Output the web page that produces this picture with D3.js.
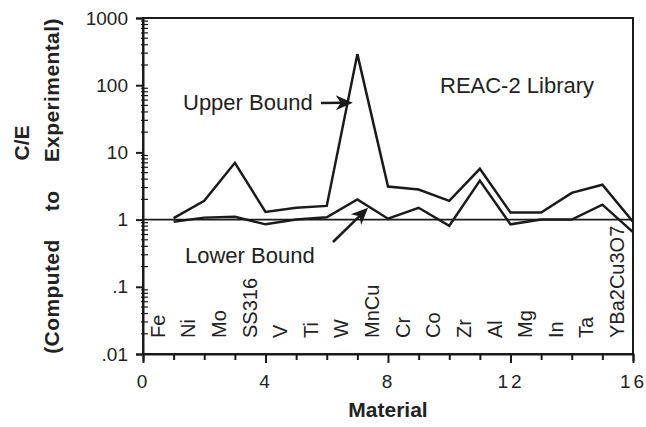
<!DOCTYPE html>
<html>
<head>
<meta charset="utf-8">
<script src="https://cdn.jsdelivr.net/npm/d3@7"></script>
<style>
  html, body { margin: 0; padding: 0; background: #fff; }
  svg { display: block; }
  text { font-family: "Liberation Sans", Arial, sans-serif; fill: #222; }
</style>
</head>
<body>
<svg id="chart" width="646" height="427"></svg>
<script>
// ---- data ----
const materials = ["Fe","Ni","Mo","SS316","V","Ti","W","MnCu","Cr","Co","Zr","Al","Mg","In","Ta","YBa2Cu3O7"];
const materialIndex = [1,2,3,4,5,6,7,8,9,10,11,12,13,14,15,16];
const upperBound = [1.05, 1.9, 7.0, 1.3, 1.5, 1.6, 290, 3.1, 2.8, 1.9, 5.7, 1.27, 1.27, 2.5, 3.3, 0.93];
const lowerBound = [0.93, 1.07, 1.1, 0.85, 1.0, 1.08, 2.0, 1.03, 1.5, 0.81, 3.8, 0.85, 1.0, 1.0, 1.67, 0.65];
const yTickValues = [1000, 100, 10, 1, 0.1, 0.01];
const yTickLabels = ["1000", "100", "10", "1", ".1", ".01"];
const xTickValues = [0,1,2,3,4,5,6,7,8,9,10,11,12,13,14,15,16];
const xTickLabels = ["0","4","8","12","16"];

// ---- layout ----
const svg = d3.select("#chart");
const L = 143, R = 633, T = 18, B = 354;
const x = d3.scaleLinear().domain([0, 16]).range([L, R]);
const y = d3.scaleLog().domain([0.01, 1000]).range([B, T]);
const ink = "#1a1a1a";
const FONT = "'Liberation Sans', Arial, sans-serif";

// frame
svg.append("rect").attr("x", L).attr("y", T).attr("width", R - L).attr("height", B - T)
  .attr("fill", "none").attr("stroke", ink).attr("stroke-width", 2);

// reference line at C/E = 1
svg.append("line").attr("x1", L).attr("x2", R).attr("y1", y(1)).attr("y2", y(1))
  .attr("stroke", ink).attr("stroke-width", 1.8);

// y axis
const yAxis = d3.axisLeft(y).tickValues(yTickValues)
  .tickFormat((d, i) => yTickLabels[i]).tickSize(7).tickPadding(8);
const gy = svg.append("g").attr("transform", `translate(${L},0)`).call(yAxis);
gy.select(".domain").attr("stroke", ink).attr("stroke-width", 2);
gy.selectAll(".tick line").attr("stroke", ink).attr("stroke-width", 2);
gy.selectAll(".tick text").style("font-size", "19px").attr("fill", "#222")
  .style("font-family", FONT);

// minor y ticks
const minor = [];
for (let e = -2; e < 3; e++) for (let m = 2; m <= 9; m++) minor.push(m * Math.pow(10, e));
svg.append("g").selectAll("line").data(minor).join("line")
  .attr("x1", L - 2).attr("x2", L + 5).attr("y1", d => y(d)).attr("y2", d => y(d))
  .attr("stroke", ink).attr("stroke-width", 1.2);

// x axis
const xAxis = d3.axisBottom(x).tickValues(xTickValues)
  .tickFormat(d => (d % 4 === 0 ? xTickLabels[d / 4] : "")).tickSize(7).tickPadding(14);
const gx = svg.append("g").attr("transform", `translate(0,${B})`).call(xAxis);
gx.select(".domain").attr("stroke", ink).attr("stroke-width", 2);
gx.selectAll(".tick line").attr("stroke", ink).attr("stroke-width", 2)
  .attr("y2", d => (d % 4 === 0 ? 9 : 6));
gx.selectAll(".tick text").style("font-size", "19px").attr("fill", "#222")
  .style("letter-spacing", "3px")
  .style("font-family", FONT);

// data lines
const line = d3.line().x((d, i) => x(materialIndex[i])).y(d => y(d));
svg.append("path").datum(upperBound).attr("d", line)
  .attr("fill", "none").attr("stroke", ink).attr("stroke-width", 2.5).attr("stroke-linejoin", "miter");
svg.append("path").datum(lowerBound).attr("d", line)
  .attr("fill", "none").attr("stroke", ink).attr("stroke-width", 2.5).attr("stroke-linejoin", "miter");

// material labels (rotated)
svg.append("g").selectAll("text").data(materials).join("text")
  .attr("transform", (d, i) => `translate(${x(materialIndex[i] - 0.52) + 7},338) rotate(-90)`)
  .attr("text-anchor", "start")
  .style("font-size", "20px")
  .text(d => d);

// annotations
function arrow(x1, y1, x2, y2) {
  const ang = Math.atan2(y2 - y1, x2 - x1);
  const g = svg.append("g");
  g.append("line").attr("x1", x1).attr("y1", y1)
    .attr("x2", x2 - 8 * Math.cos(ang)).attr("y2", y2 - 8 * Math.sin(ang))
    .attr("stroke", ink).attr("stroke-width", 2.5);
  const len = 17, half = 7.5, notch = 5;
  const pts = [[0, 0], [-len, -half], [-len + notch, 0], [-len, half]];
  g.append("polygon")
    .attr("points", pts.map(p => p.join(",")).join(" "))
    .attr("transform", `translate(${x2},${y2}) rotate(${ang * 180 / Math.PI})`)
    .attr("fill", ink);
}

svg.append("text").attr("x", 183).attr("y", 110).style("font-size", "22px").text("Upper Bound");
arrow(321, 103, x(6.85), y(55));
svg.append("text").attr("x", 185).attr("y", 263).style("font-size", "22px").text("Lower Bound");
arrow(333, 242, x(7.35), y(1.5));
svg.append("text").attr("x", 440).attr("y", 93).style("font-size", "22px").text("REAC-2 Library");

// axis titles
svg.append("text").attr("transform", "translate(29,143) rotate(-90)")
  .attr("text-anchor", "middle").style("font-size", "21px").style("font-weight", "bold").text("C/E");
svg.append("text").attr("transform", "translate(59,186) rotate(-90)")
  .attr("text-anchor", "middle").style("font-size", "21px").style("font-weight", "bold")
  .style("word-spacing", "22px").style("letter-spacing", "0.4px")
  .text("(Computed to Experimental)");
svg.append("text").attr("x", 388).attr("y", 417)
  .attr("text-anchor", "middle").style("font-size", "21px").style("font-weight", "bold").text("Material");
</script>
</body>
</html>
